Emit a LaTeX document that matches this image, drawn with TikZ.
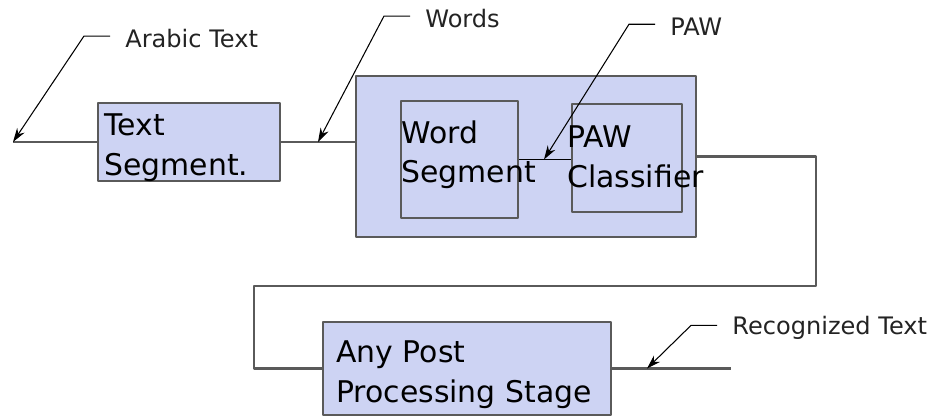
\documentclass[tikz,border=0pt]{standalone}
\usepackage{xcolor}
\usepackage{fontspec}
\setmainfont{DejaVu Sans}
\usepackage{tikz}
\usetikzlibrary{shapes,arrows.meta,positioning}
\definecolor{StageBlue}{RGB}{205,211,243}
\definecolor{EdgeGray}{RGB}{90,90,90}
\definecolor{LabelGray}{RGB}{35,35,35}

\begin{document}
\begin{tikzpicture}[x=0.02cm,y=-0.02cm,
    stage/.style={rectangle,draw=EdgeGray,line width=1.3pt,line join=round,fill=StageBlue,inner sep=0pt},
    stagetext/.style={inner sep=0pt,align=left,anchor=north west,font=\fontsize{17}{22.7}\selectfont},
    flow/.style={draw=EdgeGray,line width=1.3pt,line join=round},
    callout/.style={draw=black,line width=0.6pt,-{Stealth[length=8pt,width=5pt]}},
    calltext/.style={inner sep=0pt,anchor=base west,text=LabelGray,font=\fontsize{13.7}{16}\selectfont}]
    \useasboundingbox (0,0) rectangle (937,417);

    % blocks
    \node[stage,minimum width=3.64cm,minimum height=1.56cm] (tseg) at (189,142) {};
    \node[stage,minimum width=6.8cm,minimum height=3.22cm] (core) at (526,156.5) {};
    \node[stage,minimum width=2.34cm,minimum height=2.34cm] (wseg) at (459.5,159.5) {};
    \node[stage,minimum width=2.2cm,minimum height=2.16cm] (pawc) at (627,158) {};
    \node[stage,minimum width=5.76cm,minimum height=1.86cm] (post) at (467,368.5) {};

    % ends and bends of the main line
    \coordinate (in) at (13,142);
    \coordinate (out) at (731,368.5);
    \coordinate (loopr) at (816,286);
    \coordinate (loopl) at (254,286);

    \draw[flow] (in) -- (tseg.west);
    \draw[flow] (tseg.east) -- (tseg.east -| core.west);
    \draw[draw=black,line width=0.8pt] (wseg.east) -- (wseg.east -| pawc.west);
    \draw[flow] (core.east) -| (loopr) -- (loopl) |- (post.west);
    \draw[flow] (post.east) -- (out);

    % block texts
    \node[stagetext] (tsegtxt) at (104,113) {Text\\Segment.};
    \node[stagetext] (wsegtxt) at (401,120) {Word\\Segment};
    \node[stagetext] (pawctxt) at (567,125) {PAW\\Classifier};
    \node[stagetext] (posttxt) at (336,340) {Any Post\\Processing Stage};

    % callouts
    \coordinate (wordtip) at (318,142);
    \coordinate (pawtip) at (544,159.5);
    \coordinate (outtip) at (647,368.5);

    \node[calltext] (arabic) at (125,47) {Arabic Text};
    \node[calltext] (words) at (425,27) {Words};
    \node[calltext] (paw) at (670,35) {PAW};
    \node[calltext] (recog) at (732,334) {Recognized Text};

    \draw[callout] (arabic.west) ++(-15,-2) -- ++(-26,0) -- (in);
    \draw[callout] (words.west) ++(-15,-2) -- ++(-26,0) -- (wordtip);
    \draw[callout] (paw.west) ++(-15,-2) -- ++(-26,0) -- (pawtip);
    \draw[callout] (recog.west) ++(-15,-2) -- ++(-26,0) -- (outtip);
\end{tikzpicture}
\end{document}
